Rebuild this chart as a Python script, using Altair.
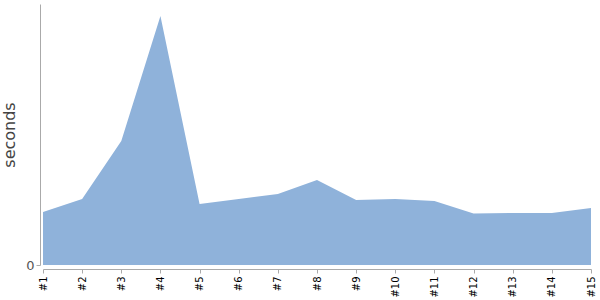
import altair as alt
import pandas as pd

labels = ["#1", "#2", "#3", "#4", "#5", "#6", "#7", "#8", "#9", "#10", "#11", "#12", "#13", "#14", "#15"]
seconds = [0.53, 0.66, 1.24, 2.49, 0.61, 0.66, 0.71, 0.85, 0.65, 0.66, 0.64, 0.515, 0.52, 0.52, 0.57]

df = pd.DataFrame({"run": labels, "seconds": seconds})

chart = alt.Chart(df).mark_area(
    color="#8fb2da", opacity=1, interpolate="linear"
).encode(
    x=alt.X("run:O", sort=labels, scale=alt.Scale(type="point", padding=0),
            axis=alt.Axis(title=None, labelAngle=-90, labelColor="#000", labelFontSize=10,
                          labelFont="DejaVu Sans", domainColor="#aaa", tickColor="#aaa",
                          tickSize=4, offset=4, labelPadding=3)),
    y=alt.Y("seconds:Q", scale=alt.Scale(domain=[0, 2.61], nice=False),
            axis=alt.Axis(title="seconds", values=[0], grid=False, labelColor="#555",
                          labelFontSize=13, labelFont="DejaVu Sans", titleFont="DejaVu Sans",
                          titleFontSize=16, titleFontWeight="normal", titleColor="#444",
                          domainColor="#aaa", tickColor="#aaa", tickSize=4, offset=3,
                          titlePadding=8)),
).properties(
    width=548, height=261,
    autosize=alt.AutoSizeParams(type="none"),
    padding={"left": 43, "top": 4, "right": 9, "bottom": 35},
).configure_view(stroke=None)

chart.save("out.html", embed_options={"renderer": "svg", "actions": False})
